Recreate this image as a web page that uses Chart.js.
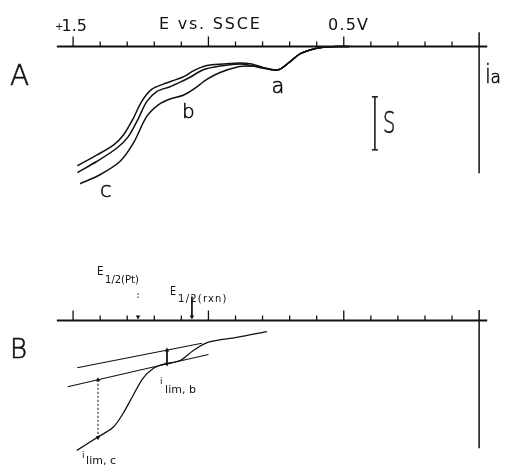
<!DOCTYPE html>
<html>
<head>
<meta charset="utf-8">
<script src="https://cdn.jsdelivr.net/npm/chart.js@4.4.1/dist/chart.umd.min.js"></script>
<style>
  html, body { margin: 0; padding: 0; background: #fff; }
  #wrap { width: 507px; height: 476px; }
</style>
</head>
<body>
<div id="wrap"><canvas id="fig"></canvas></div>
<script>
// potentials in V vs SSCE, currents in units of the S bar (anodic up)

// panel A: the three sweeps a/b/c
const potA1 = [1.484, 1.413, 1.351, 1.314, 1.278, 1.247, 1.210, 1.167, 1.117, 1.087, 1.056, 1.006, 0.945, 0.883, 0.840, 0.803, 0.760, 0.736, 0.699, 0.662, 0.625, 0.576, 0.514, 0.48];
const curA1 = [-2.25, -2.05, -1.86, -1.67, -1.36, -1.04, -0.81, -0.71, -0.62, -0.56, -0.46, -0.36, -0.33, -0.31, -0.33, -0.39, -0.44, -0.43, -0.29, -0.14, -0.066, -0.015, 0, 0];
const potA2 = [1.484, 1.413, 1.339, 1.296, 1.259, 1.228, 1.191, 1.142, 1.099, 1.068, 1.019, 0.957, 0.883, 0.834, 0.797, 0.760, 0.736, 0.699, 0.662, 0.625, 0.576, 0.514, 0.48];
const curA2 = [-2.38, -2.17, -1.92, -1.70, -1.36, -1.04, -0.85, -0.76, -0.66, -0.58, -0.44, -0.37, -0.33, -0.37, -0.41, -0.44, -0.43, -0.29, -0.14, -0.066, -0.015, 0, 0];
const potA3 = [1.474, 1.401, 1.327, 1.278, 1.228, 1.185, 1.142, 1.093, 1.056, 1.006, 0.957, 0.896, 0.847, 0.803, 0.760, 0.736, 0.699, 0.662, 0.625, 0.576, 0.514, 0.48];
const curA3 = [-2.59, -2.42, -2.17, -1.83, -1.32, -1.10, -0.99, -0.92, -0.81, -0.62, -0.49, -0.39, -0.37, -0.39, -0.44, -0.43, -0.29, -0.14, -0.066, -0.015, 0, 0];

// sensitivity bar S
const barPot = 0.385;
const barCur = [-0.95, -1.95];

// panel B: construction for the limiting currents
const potUpper = [1.485, 1.024];
const curUpper = [-0.89, -0.43];
const potLower = [1.52, 1.00];
const curLower = [-1.25, -0.64];
const potWave = [1.486, 1.412, 1.353, 1.316, 1.279, 1.242, 1.205, 1.168, 1.105, 1.057, 1.00, 0.895, 0.784];
const curWave = [-2.45, -2.21, -2.02, -1.76, -1.42, -1.09, -0.91, -0.83, -0.755, -0.57, -0.41, -0.32, -0.21];
const limB = { pot: 1.153, cur: [-0.56, -0.82] };
const limC = { pot: 1.408, cur: [-1.12, -2.21] };
const halfPt = 1.26;
const halfRxn = 1.061;

// potential axis
const tickPot = [1.5, 1.4, 1.3, 1.2, 1.1, 1.0, 0.9, 0.8, 0.7, 0.6, 0.5, 0.4, 0.3, 0.2, 0.1];
const majorPot = [1.5, 1.0, 0.5];
const axisSpan = [1.56, -0.03];

const FONT = '"DejaVu Sans", "Liberation Sans", sans-serif';
const INK = '#111';

const pts = (pot, cur) => pot.map((e, k) => ({ x: e, y: cur[k] }));

function curve(pot, cur, yAxisID, width) {
  return {
    data: pts(pot, cur), yAxisID,
    borderColor: INK, borderWidth: width, pointRadius: 0,
    tension: 0.3, fill: false
  };
}

function arrow(pot, cur, yAxisID, heads, dash) {
  return {
    data: cur.map(c => ({ x: pot, y: c })), yAxisID,
    borderColor: INK, backgroundColor: INK, borderWidth: 1, borderDash: dash || [],
    tension: 0, pointStyle: 'triangle',
    pointRadius: heads.map(h => h === null ? 0 : 2.6),
    pointRotation: heads.map(h => h || 0),
    pointBorderWidth: 0
  };
}

const axesAndText = {
  id: 'axesAndText',
  afterDatasetsDraw(chart) {
    const ctx = chart.ctx;
    const x = chart.scales.x;
    const px = e => x.getPixelForValue(e);

    function axis(yId, vert, tall) {
      const ys = chart.scales[yId];
      const y0 = ys.getPixelForValue(0);
      ctx.save();
      ctx.strokeStyle = INK;
      ctx.lineWidth = 2;
      ctx.beginPath();
      ctx.moveTo(px(axisSpan[0]), y0);
      ctx.lineTo(px(axisSpan[1]), y0);
      ctx.stroke();
      ctx.lineWidth = 1.3;
      tickPot.forEach(t => {
        const len = majorPot.includes(t) ? tall : 5;
        ctx.beginPath();
        ctx.moveTo(px(t), y0);
        ctx.lineTo(px(t), y0 - len);
        ctx.stroke();
      });
      ctx.lineWidth = 1.5;
      ctx.beginPath();
      ctx.moveTo(px(0), ys.getPixelForValue(vert[0]));
      ctx.lineTo(px(0), ys.getPixelForValue(vert[1]));
      ctx.stroke();
      ctx.restore();
    }
    axis('yA', [0.27, -2.39], 10);
    axis('yB', [0.2, -2.41], 10);

    // thin lettering: light face, lightly stroked so it stays dark
    function text(str, e, c, yId, size, opts) {
      opts = opts || {};
      ctx.save();
      ctx.fillStyle = INK;
      ctx.strokeStyle = INK;
      ctx.font = (opts.weight || 400) + ' ' + size + 'px ' + FONT;
      ctx.textBaseline = 'alphabetic';
      ctx.textAlign = opts.align || 'left';
      if (opts.spacing) ctx.letterSpacing = opts.spacing + 'px';
      const X = px(e), Y = chart.scales[yId].getPixelForValue(c);
      ctx.translate(X, Y);
      if (opts.sx) ctx.scale(opts.sx, 1);
      ctx.fillText(str, 0, 0);
      if (opts.weight === 200) {
        ctx.lineWidth = 0.6;
        ctx.strokeText(str, 0, 0);
      }
      ctx.restore();
    }

    // panel A
    text('+', 1.567, 0.31, 'yA', 10);
    text('1.5', 1.543, 0.29, 'yA', 16);
    text('E vs. SSCE', 1.183, 0.33, 'yA', 16, { spacing: 1.8 });
    text('0.5V', 0.558, 0.31, 'yA', 16, { spacing: 1.2 });
    text('A', 1.733, -0.73, 'yA', 28, { weight: 200 });
    text('a', 0.743, -0.88, 'yA', 21, { align: 'center', weight: 200 });
    text('b', 1.098, -1.35, 'yA', 20, { weight: 200 });
    text('c', 1.401, -2.84, 'yA', 21, { weight: 200 });
    text('S', 0.355, -1.63, 'yA', 30, { sx: 0.65, weight: 200 });
    text('i', -0.022, -0.69, 'yA', 26, { sx: 0.8, weight: 200 });
    text('a', -0.042, -0.69, 'yA', 17, { weight: 200 });

    // panel B
    text('B', 1.733, -0.71, 'yB', 26, { weight: 200 });
    text('E', 1.412, 0.86, 'yB', 13, { sx: 0.8 });
    text('1/2(Pt)', 1.382, 0.71, 'yB', 10);
    text('E', 1.142, 0.48, 'yB', 12, { sx: 0.8 });
    text('1/2(rxn)', 1.112, 0.35, 'yB', 10, { spacing: 1.2 });
    text('i', 1.179, -1.20, 'yB', 9);
    text('lim, b', 1.160, -1.37, 'yB', 11);
    text('i', 1.467, -2.59, 'yB', 9);
    text('lim, c', 1.452, -2.71, 'yB', 11);

    // short dotted mark above the E1/2(Pt) pointer
    ctx.save();
    ctx.strokeStyle = INK;
    ctx.lineWidth = 1;
    ctx.setLineDash([1.5, 1.5]);
    ctx.beginPath();
    ctx.moveTo(px(halfPt), chart.scales.yB.getPixelForValue(0.51));
    ctx.lineTo(px(halfPt), chart.scales.yB.getPixelForValue(0.42));
    ctx.stroke();
    ctx.restore();
  }
};

new Chart(document.getElementById('fig'), {
  type: 'line',
  data: {
    datasets: [
      curve(potA1, curA1, 'yA', 1.5),
      curve(potA2, curA2, 'yA', 1.5),
      curve(potA3, curA3, 'yA', 1.5),
      {
        data: barCur.map(c => ({ x: barPot, y: c })), yAxisID: 'yA',
        borderColor: INK, borderWidth: 1.5, pointStyle: 'line',
        pointRadius: 3, pointBorderColor: INK, pointBorderWidth: 1.5
      },
      curve(potUpper, curUpper, 'yB', 1.1),
      curve(potLower, curLower, 'yB', 1.1),
      curve(potWave, curWave, 'yB', 1.3),
      arrow(limB.pot, limB.cur, 'yB', [0, 180]),
      arrow(limC.pot, limC.cur, 'yB', [0, 180], [2, 2]),
      arrow(halfRxn, [0.45, 0.07], 'yB', [null, 180]),
      arrow(halfPt, [0.07], 'yB', [180])
    ]
  },
  options: {
    responsive: true,
    maintainAspectRatio: false,
    animation: false,
    events: [],
    layout: { padding: 0, autoPadding: false },
    plugins: { legend: { display: false }, tooltip: { enabled: false } },
    scales: {
      x: { type: 'linear', reverse: true, min: -0.103, max: 1.770, display: false },
      yA: { type: 'linear', min: -8.104, max: 0.877, display: false },
      yB: { type: 'linear', min: -2.934, max: 6.047, display: false }
    }
  },
  plugins: [axesAndText]
});
</script>
</body>
</html>
